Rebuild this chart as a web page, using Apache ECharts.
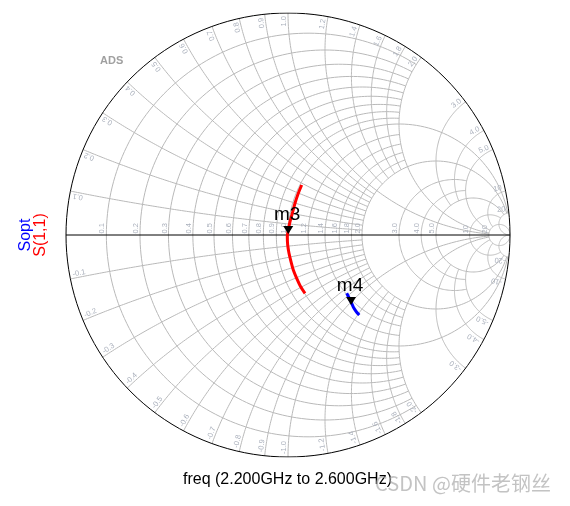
<!DOCTYPE html>
<html><head><meta charset="utf-8">
<script src="https://cdn.jsdelivr.net/npm/echarts@6/dist/echarts.min.js"></script>
<style>html,body{margin:0;padding:0;background:#fff}#c{width:570px;height:506px}</style>
</head><body><div id="c"></div>
<script>
// ---- Smith chart grid values ----
const rValues = [0.1,0.2,0.3,0.4,0.5,0.6,0.7,0.8,0.9,1.0,1.2,1.4,1.6,1.8,2.0,3.0,4.0,5.0,10,20];
const rMaxX   = [2,2,2,2,2,2,2,2,2,20,2,2,2,2,20,5,5,20,20,Infinity];
const xValues = [0.1,0.2,0.3,0.4,0.5,0.6,0.7,0.8,0.9,1.0,1.2,1.4,1.6,1.8,2.0,3.0,4.0,5.0,10,20];
const xMaxR   = [2,2,2,2,2,2,2,2,2,20,2,2,2,2,20,5,5,20,20,Infinity];
const tickLabels = ['0.1','0.2','0.3','0.4','0.5','0.6','0.7','0.8','0.9','1.0','1.2','1.4','1.6','1.8','2.0','3.0','4.0','5.0','10','20'];

// ---- traces (reflection coefficient, real / imag) ----
const s11Re = [0.0617,0.0464,0.0315,0.0194,0.0090,0.0014,-0.0032,-0.0014,0.0045,0.0135,0.0239,0.0392,0.0572,0.0766];
const s11Im = [0.2252,0.1878,0.1428,0.0977,0.0599,0.0225,-0.0077,-0.0450,-0.0824,-0.1201,-0.1577,-0.1950,-0.2329,-0.2626];
const soptRe = [0.2644,0.2761,0.2869,0.2973,0.3095,0.3212];
const soptIm = [-0.2626,-0.2851,-0.3077,-0.3302,-0.3482,-0.3604];

// ---- markers ----
const markerNames = ['m3','m4'];
const markerRe = [0.001, 0.284];
const markerIm = [0.005, -0.315];

function z2g(r, x){
  if (!isFinite(r) || !isFinite(x)) return [1, 0];
  const den = (r+1)*(r+1) + x*x;
  return [(r*r + x*x - 1)/den, 2*x/den];
}
function norm(a){ while(a<0) a+=2*Math.PI; while(a>=2*Math.PI) a-=2*Math.PI; return a; }
function resistanceArc(r, L){
  const c = r/(1+r), R = 1/(1+r);
  let a0, a1;
  if (!isFinite(L)) { a0 = 0; a1 = 2*Math.PI; }
  else {
    const gp = z2g(r, L), gm = z2g(r, -L);
    a0 = norm(Math.atan2(gp[1], gp[0]-c));
    a1 = norm(Math.atan2(gm[1], gm[0]-c));
  }
  const pts = [], n = 160;
  for (let k=0;k<=n;k++){ const a = a0 + (a1-a0)*k/n; pts.push([c + R*Math.cos(a), R*Math.sin(a)]); }
  return pts;
}
function reactanceArc(x, r1, r2){
  const ax = Math.abs(x), s = x>0 ? 1 : -1, R = 1/ax;
  const psi = (r)=>{ const g = z2g(r, ax); if(!isFinite(r)) return 1.5*Math.PI; return norm(Math.atan2(g[1]-R, g[0]-1)); };
  const a0 = psi(r1), a1 = psi(r2);
  const pts = [], n = 120;
  for (let k=0;k<=n;k++){ const a = a0 + (a1-a0)*k/n; pts.push([1 + R*Math.cos(a), s*(R + R*Math.sin(a))]); }
  return pts;
}

const gridLines = [];
rValues.forEach((r,i)=>gridLines.push({coords: resistanceArc(r, rMaxX[i])}));
xValues.forEach((x,i)=>{
  gridLines.push({coords: reactanceArc(x, 0, xMaxR[i])});
  gridLines.push({coords: reactanceArc(-x, 0, xMaxR[i])});
});
const frameLines = [{coords: resistanceArc(0, Infinity)}, {coords: [[-1,0],[1,0]]}];

const axisLabelData = rValues.map((r,i)=>{ const g = z2g(r,0); return [g[0], 0, i]; });
const rimLabelData = [];
xValues.forEach((x,i)=>{
  [1,-1].forEach(s=>{ const g = z2g(0, s*x); rimLabelData.push([g[0]*0.986, g[1]*0.986, i, s]); });
});

const chart = echarts.init(document.getElementById('c'));
chart.setOption({
  animation: false,
  grid: {left:66, top:13, width:444, height:444},
  xAxis: {type:'value', min:-1, max:1, show:false},
  yAxis: {type:'value', min:-1, max:1, show:false},
  series: [
    {type:'lines', coordinateSystem:'cartesian2d', polyline:true, silent:true, z:1,
     lineStyle:{color:'#b9b9b9', width:1, opacity:1}, data: gridLines},
    {type:'lines', coordinateSystem:'cartesian2d', polyline:true, silent:true, z:2,
     lineStyle:{color:'#000000', width:1, opacity:1}, data: frameLines},
    {type:'custom', coordinateSystem:'cartesian2d', silent:true, z:3, data: axisLabelData,
     renderItem:(p, api)=>{ const pt = api.coord([api.value(0), api.value(1)]);
       return {type:'text', x:pt[0], y:pt[1]-1.5, rotation:Math.PI/2,
         style:{text: tickLabels[api.value(2)], fill:'#aab0bc', font:'7.5px Arial', align:'left', verticalAlign:'bottom'}}; }},
    {type:'custom', coordinateSystem:'cartesian2d', silent:true, z:3, data: rimLabelData,
     renderItem:(p, api)=>{ const pt = api.coord([api.value(0), api.value(1)]);
       const s = api.value(3); const th = Math.atan2(api.value(1), api.value(0));
       const txt = (s<0?'-':'') + tickLabels[api.value(2)];
       return {type:'text', x:pt[0], y:pt[1], rotation: s>0 ? th : th+Math.PI,
         style:{text: txt, fill:'#aab0bc', font:'7.5px Arial', align: s>0?'right':'left', verticalAlign:'bottom'}}; }},
    {type:'line', data: s11Re.map((v,i)=>[v, s11Im[i]]), smooth:0.3, symbol:'none', z:4,
     lineStyle:{color:'#ff0000', width:3}},
    {type:'line', data: soptRe.map((v,i)=>[v, soptIm[i]]), smooth:0.3, symbol:'none', z:4,
     lineStyle:{color:'#0000ff', width:3}},
    {type:'custom', coordinateSystem:'cartesian2d', silent:true, z:5,
     data: markerRe.map((v,i)=>[v, markerIm[i], i]),
     renderItem:(p, api)=>{ const pt = api.coord([api.value(0), api.value(1)]);
       return {type:'group', children:[
         {type:'polygon', shape:{points:[[pt[0]-5,pt[1]-8],[pt[0]+5,pt[1]-8],[pt[0],pt[1]]]}, style:{fill:'#000'}},
         {type:'text', x:pt[0]-1, y:pt[1]-19.5, style:{text: markerNames[api.value(2)], fill:'#000', font:'19px Arial', align:'center', verticalAlign:'middle'}}
       ]}; }}
  ],
  graphic: [
    {type:'text', x:100, y:55, style:{text:'ADS', font:'bold 11px Arial', fill:'#a0a0a0'}},
    {type:'text', x:26, y:235, rotation:Math.PI/2, style:{text:'Sopt', font:'16px Arial', fill:'#0000ff', align:'center', verticalAlign:'middle'}},
    {type:'text', x:41, y:235, rotation:Math.PI/2, style:{text:'S(1,1)', font:'16px Arial', fill:'#ff0000', align:'center', verticalAlign:'middle'}},
    {type:'text', x:287.5, y:480, style:{text:'freq (2.200GHz to 2.600GHz)', font:'16px Arial', fill:'#000', align:'center', verticalAlign:'middle'}},
    {type:'text', x:463, y:483, z:100, style:{text:'CSDN @硬件老钢丝', font:'20px "Noto Sans CJK SC", Arial', fill:'rgba(170,170,170,0.7)', align:'center', verticalAlign:'middle'}}
  ]
});
</script></body></html>
